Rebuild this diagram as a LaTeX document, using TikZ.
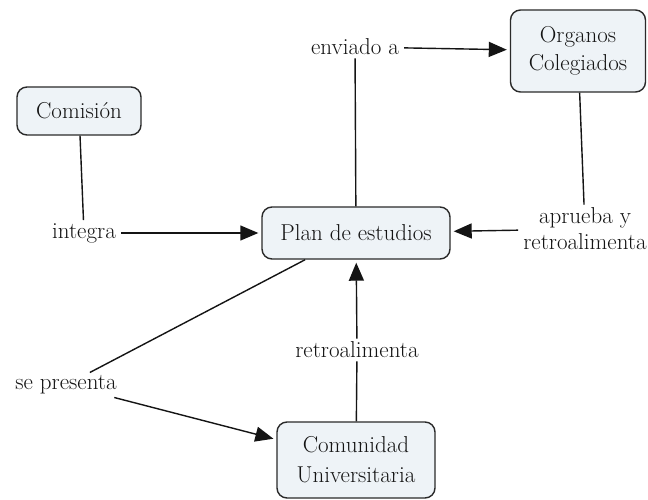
\documentclass[tikz,border=0pt]{standalone}
\usetikzlibrary{arrows.meta}
\definecolor{boxfill}{HTML}{EEF3F7}
\definecolor{boxline}{HTML}{2A2A2A}
\definecolor{ink}{HTML}{141414}
\begin{document}
\begin{tikzpicture}[x=1pt,y=1pt,
  concept/.style={draw=boxline, line width=1.4pt, fill=boxfill, rounded corners=10pt,
    align=center, text=ink, font=\fontsize{23}{28}\selectfont, inner sep=2pt},
  linklabel/.style={align=center, text=ink, font=\fontsize{23}{26}\selectfont, inner xsep=5pt, inner ysep=3pt},
  conn/.style={draw=ink, line width=1.4pt},
  arr/.style={conn, -{Triangle[length=18pt,width=15pt]}, shorten >=3pt}
]
\useasboundingbox (0,0) rectangle (648,-500);
\fill[white] (0,0) rectangle (648,-500);

\node[concept, minimum width=124pt, minimum height=48pt] (com) at (79,-111) {Comisión};
\node[concept, minimum width=188pt, minimum height=52pt] (plan) at (356,-233) {Plan de estudios};
\node[concept, minimum width=135pt, minimum height=82pt] (org) at (578,-51) {Organos\\Colegiados};
\node[concept, minimum width=158pt, minimum height=76pt, font=\fontsize{23}{30}\selectfont] (comu) at (356,-460) {Comunidad\\Universitaria};

\node[linklabel] (integra) at (84,-233) {integra};
\node[linklabel] (enviado) at (355,-47) {enviado a};
\node[linklabel] (aprueba) at (585,-229) {aprueba y\\retroalimenta};
\node[linklabel] (retro) at (357,-350) {retroalimenta};
\node[linklabel] (sepres) at (66,-385) {se presenta};

\draw[conn] (com) -- (integra);
\draw[arr] (integra) -- (plan);

\draw[conn] (plan) -- (enviado);
\draw[arr] (enviado) -- (org);

\draw[conn] (org) -- (aprueba);
\draw[arr] (aprueba) -- (plan);

\draw[conn] (comu) -- (retro);
\draw[arr] (retro) -- (plan);

\draw[conn] (plan) -- (sepres);
\draw[arr] (sepres) -- (comu);
\end{tikzpicture}
\end{document}
